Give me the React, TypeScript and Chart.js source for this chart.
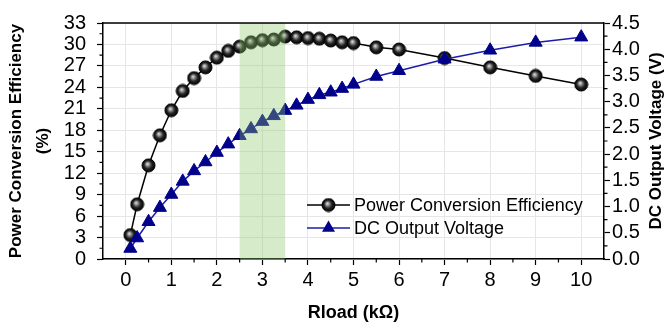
import React, { useEffect, useRef } from 'react';
import { Chart, registerables } from 'chart.js';

Chart.register(...registerables);

const FONT = '"Liberation Sans", Arial, sans-serif';

const rload = [0.1, 0.25, 0.5, 0.75, 1, 1.25, 1.5, 1.75, 2, 2.25, 2.5, 2.75, 3, 3.25, 3.5, 3.75, 4, 4.25, 4.5, 4.75, 5, 5.5, 6, 7, 8, 9, 10];
const efficiency = [3.35, 7.65, 13.1, 17.3, 20.8, 23.5, 25.3, 26.8, 28.15, 29.1, 29.7, 30.3, 30.6, 30.7, 31.1, 31.0, 30.9, 30.8, 30.55, 30.3, 30.2, 29.6, 29.3, 28.1, 26.8, 25.6, 24.4];
const voltage = [0.2, 0.4, 0.71, 0.98, 1.23, 1.48, 1.68, 1.85, 2.03, 2.19, 2.35, 2.48, 2.62, 2.73, 2.83, 2.93, 3.04, 3.13, 3.18, 3.25, 3.33, 3.48, 3.59, 3.81, 3.98, 4.13, 4.23];

const xTicks = [0, 1, 2, 3, 4, 5, 6, 7, 8, 9, 10];
const xMinorTicks = [0.5, 1.5, 2.5, 3.5, 4.5, 5.5, 6.5, 7.5, 8.5, 9.5];
const effTicks = [0, 3, 6, 9, 12, 15, 18, 21, 24, 27, 30, 33];
const effMinorTicks = [1.5, 4.5, 7.5, 10.5, 13.5, 16.5, 19.5, 22.5, 25.5, 28.5, 31.5];
const voltTicks = [0, 0.5, 1, 1.5, 2, 2.5, 3, 3.5, 4, 4.5];
const voltMinorTicks = [0.25, 0.75, 1.25, 1.75, 2.25, 2.75, 3.25, 3.75, 4.25];
const band = [2.5, 3.5];

const effLabel = 'Power Conversion Efficiency';
const voltLabel = 'DC Output Voltage';
const xTitle = 'Rload (kΩ)';
const voltTitle = 'DC Output Voltage (V)';

function makeSphere(r: number): HTMLCanvasElement {
  const c = document.createElement('canvas');
  const s = Math.ceil(2 * r + 2);
  c.width = s;
  c.height = s;
  const ctx = c.getContext('2d')!;
  const cx = s / 2;
  const cy = s / 2;
  const g = ctx.createRadialGradient(cx - r * 0.2, cy - r * 0.25, 0, cx, cy, r);
  g.addColorStop(0, '#f0f0f0');
  g.addColorStop(0.25, '#9a9a9a');
  g.addColorStop(0.6, '#262626');
  g.addColorStop(1, '#000000');
  ctx.beginPath();
  ctx.arc(cx, cy, r, 0, Math.PI * 2);
  ctx.fillStyle = g;
  ctx.fill();
  ctx.lineWidth = 1;
  ctx.strokeStyle = '#000';
  ctx.stroke();
  return c;
}

const bandPlugin = {
  id: 'bandPlugin',
  afterDatasetsDraw(chart: any) {
    const { ctx, chartArea, scales } = chart;
    const x0 = scales.x.getPixelForValue(band[0]);
    const x1 = scales.x.getPixelForValue(band[1]);
    ctx.save();
    ctx.fillStyle = 'rgba(140, 200, 105, 0.36)';
    ctx.fillRect(x0, chartArea.top, x1 - x0, chartArea.bottom - chartArea.top);
    ctx.restore();
  },
};

const framePlugin = {
  id: 'framePlugin',
  afterDraw(chart: any) {
    const { ctx, chartArea, scales, width } = chart;
    ctx.save();
    ctx.strokeStyle = '#000';
    ctx.lineWidth = 1.5;
    ctx.beginPath();
    ctx.moveTo(chartArea.left, chartArea.top);
    ctx.lineTo(chartArea.right, chartArea.top);
    ctx.stroke();
    // minor ticks
    ctx.lineWidth = 1.2;
    ctx.beginPath();
    xMinorTicks.forEach((v) => {
      const px = scales.x.getPixelForValue(v);
      ctx.moveTo(px, chartArea.bottom);
      ctx.lineTo(px, chartArea.bottom + 3.5);
    });
    effMinorTicks.forEach((v) => {
      const py = scales.y.getPixelForValue(v);
      ctx.moveTo(chartArea.left, py);
      ctx.lineTo(chartArea.left - 3.5, py);
    });
    voltMinorTicks.forEach((v) => {
      const py = scales.y1.getPixelForValue(v);
      ctx.moveTo(chartArea.right, py);
      ctx.lineTo(chartArea.right + 3.5, py);
    });
    ctx.stroke();
    // right axis title, reading bottom-to-top
    ctx.fillStyle = '#000';
    ctx.font = `bold 17px ${FONT}`;
    ctx.textAlign = 'center';
    ctx.textBaseline = 'middle';
    ctx.translate(width - 10, (chartArea.top + chartArea.bottom) / 2);
    ctx.rotate(-Math.PI / 2);
    ctx.fillText(voltTitle, 0, 0);
    ctx.restore();
  },
};

const legendPlugin = {
  id: 'customLegend',
  afterDraw(chart: any) {
    const { ctx, chartArea } = chart;
    const items = [chart.data.datasets[0], chart.data.datasets[1]];
    ctx.save();
    items.forEach((ds: any, i: number) => {
      const y = chartArea.bottom - 54 + i * 23;
      const xs = chartArea.left + 204;
      const xe = chartArea.left + 247;
      const xm = (xs + xe) / 2;
      ctx.strokeStyle = ds.borderColor;
      ctx.lineWidth = ds.borderWidth;
      ctx.beginPath();
      ctx.moveTo(xs, y);
      ctx.lineTo(xe, y);
      ctx.stroke();
      if (ds.pointStyle instanceof HTMLCanvasElement) {
        const img = ds.pointStyle as HTMLCanvasElement;
        ctx.drawImage(img, xm - img.width / 2, y - img.height / 2);
      } else {
        const r = ds.pointRadius;
        ctx.fillStyle = ds.pointBackgroundColor;
        ctx.beginPath();
        ctx.moveTo(xm, y - r);
        ctx.lineTo(xm + r * Math.sin((2 * Math.PI) / 3), y + r / 2);
        ctx.lineTo(xm - r * Math.sin((2 * Math.PI) / 3), y + r / 2);
        ctx.closePath();
        ctx.fill();
      }
      ctx.fillStyle = '#000';
      ctx.font = `18px ${FONT}`;
      ctx.textBaseline = 'middle';
      ctx.textAlign = 'left';
      ctx.fillText(ds.label, chartArea.left + 251, y + 1);
    });
    ctx.restore();
  },
};

export default function App() {
  const ref = useRef<HTMLCanvasElement | null>(null);

  useEffect(() => {
    document.body.style.margin = '0';
    const canvas = ref.current;
    if (!canvas) return;
    const sphere = makeSphere(6.5);
    const tickFont = { family: FONT, size: 20 };
    const titleFont = { family: FONT, size: 17, weight: 'bold' as const };

    const chart = new Chart(canvas, {
      type: 'line',
      data: {
        datasets: [
          {
            label: effLabel,
            data: rload.map((x, i) => ({ x, y: efficiency[i] })),
            yAxisID: 'y',
            borderColor: '#000000',
            borderWidth: 1.5,
            pointStyle: sphere as any,
            pointRadius: 6.5,
            tension: 0,
            order: 1,
          },
          {
            label: voltLabel,
            data: rload.map((x, i) => ({ x, y: voltage[i] })),
            yAxisID: 'y1',
            borderColor: '#1c1caa',
            borderWidth: 1.5,
            pointStyle: 'triangle',
            pointRadius: 7.5,
            pointBackgroundColor: '#00008b',
            pointBorderColor: '#00008b',
            pointBorderWidth: 1,
            tension: 0,
            order: 0,
          },
        ],
      },
      options: {
        animation: false,
        responsive: false,
        devicePixelRatio: 1,
        layout: { padding: { top: 16, left: 0, right: 0, bottom: 0 } },
        plugins: {
          legend: { display: false },
          tooltip: { enabled: false },
        },
        scales: {
          x: {
            type: 'linear',
            position: 'bottom',
            min: -0.5,
            max: 10.5,
            afterBuildTicks: (s: any) => {
              s.ticks = xTicks.map((v) => ({ value: v }));
            },
            afterFit: (s: any) => {
              s.height = 66;
            },
            grid: { color: '#e6e6e6', lineWidth: 1, tickLength: 6, tickColor: '#000', tickWidth: 1.2 },
            border: { color: '#000', width: 1.5 },
            ticks: { font: tickFont, color: '#000', padding: 3, maxRotation: 0, autoSkip: false, callback: (v: any) => String(v) },
            title: { display: true, text: xTitle, font: { ...titleFont, size: 18 }, color: '#000', padding: { top: 0, bottom: 1 } },
          },
          y: {
            type: 'linear',
            position: 'left',
            min: 0,
            max: 33,
            afterBuildTicks: (s: any) => {
              s.ticks = effTicks.map((v) => ({ value: v }));
            },
            afterFit: (s: any) => {
              s.width = 103;
            },
            grid: { color: '#e6e6e6', lineWidth: 1, tickLength: 6, tickColor: '#000', tickWidth: 1.2 },
            border: { color: '#000', width: 1.5 },
            ticks: { font: tickFont, color: '#000', padding: 11, autoSkip: false, callback: (v: any) => String(v) },
            title: {
              display: true,
              text: [effLabel, '(%)'],
              font: { ...titleFont, lineHeight: 1.6 },
              color: '#000',
              padding: { top: 3, bottom: 0 },
            },
          },
          y1: {
            type: 'linear',
            position: 'right',
            min: 0,
            max: 4.5,
            afterBuildTicks: (s: any) => {
              s.ticks = voltTicks.map((v) => ({ value: v }));
            },
            afterFit: (s: any) => {
              s.width = 62;
            },
            grid: { drawOnChartArea: false, tickLength: 6, tickColor: '#000', tickWidth: 1.2 },
            border: { color: '#000', width: 1.5 },
            ticks: { font: tickFont, color: '#000', padding: 2, autoSkip: false, callback: (v: any) => Number(v).toFixed(1) },
            title: { display: false },
          },
        },
      },
      plugins: [bandPlugin, framePlugin, legendPlugin],
    } as any);

    return () => {
      chart.destroy();
    };
  }, []);

  return (
    <div style={{ width: 666, height: 325, background: '#fff' }}>
      <canvas ref={ref} width={666} height={325} style={{ display: 'block' }} />
    </div>
  );
}
